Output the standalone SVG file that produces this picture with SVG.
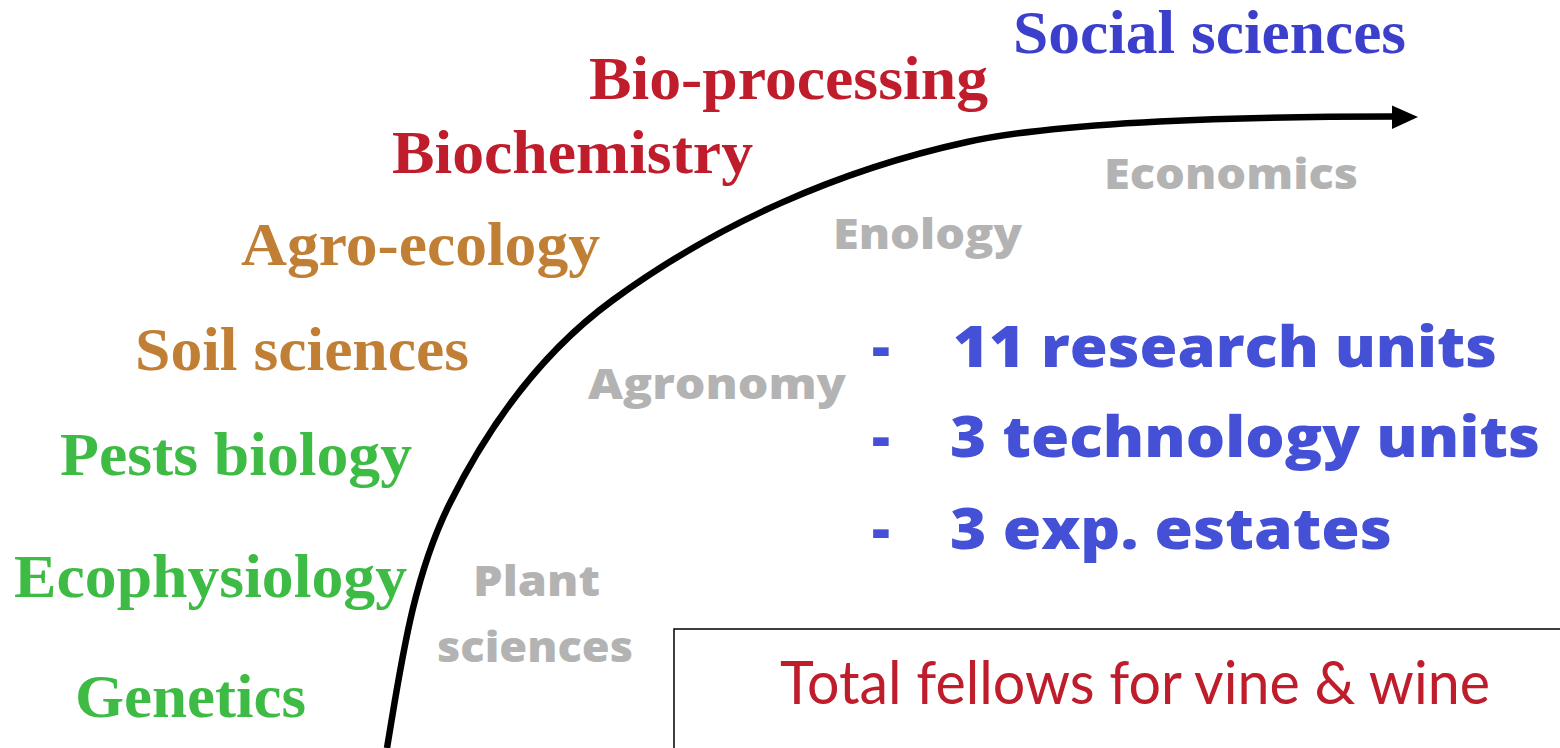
<svg xmlns="http://www.w3.org/2000/svg" width="1560" height="748" viewBox="0 0 1560 748">
<style>
.serif{font-family:"Liberation Serif","Times New Roman",serif;font-weight:bold;font-size:62px}
.red{fill:#bf1c2c}
.brown{fill:#c17f35}
.green{fill:#3dbb45}
.blue{fill:#3c3fcb}
.gray{font-family:"Open Sans",Lato,"DejaVu Sans",sans-serif;font-weight:800;font-size:42px;fill:#b3b3b3}
.list{font-family:"Open Sans",Lato,"DejaVu Sans",sans-serif;font-weight:800;font-size:56px;fill:#4450d6}
.total{font-family:Lato,"Open Sans","DejaVu Sans",sans-serif;font-weight:normal;font-size:60px;fill:#bf1c2c}
</style>
<rect width="1560" height="748" fill="#ffffff"/>
<g id="connectors">
<path d="M387,748 C401,665 412.4,578.2 450,503 C488.9,425.2 542.7,351.3 613,300 C718,223.3 840,169.7 967,142 C1045,125 1194,116.5 1394,116.5" fill="none" stroke="#000" stroke-width="6.5"/>
<polygon points="1392,105.5 1418,117 1392,129" fill="#000"/>
</g>
<g id="social"><text class="serif blue" x="1013" y="53" textLength="393" lengthAdjust="spacingAndGlyphs">Social sciences</text></g>
<g id="bioprocessing"><text class="serif red" x="589" y="99" textLength="399" lengthAdjust="spacingAndGlyphs">Bio-processing</text></g>
<g id="biochemistry"><text class="serif red" x="392" y="173" textLength="361" lengthAdjust="spacingAndGlyphs">Biochemistry</text></g>
<g id="agroecology"><text class="serif brown" x="241" y="265" textLength="359" lengthAdjust="spacingAndGlyphs">Agro-ecology</text></g>
<g id="soil"><text class="serif brown" x="135" y="370" textLength="334" lengthAdjust="spacingAndGlyphs">Soil sciences</text></g>
<g id="pests"><text class="serif green" x="60" y="475" textLength="352" lengthAdjust="spacingAndGlyphs">Pests biology</text></g>
<g id="ecophysiology"><text class="serif green" x="14" y="597" textLength="393" lengthAdjust="spacingAndGlyphs">Ecophysiology</text></g>
<g id="genetics"><text class="serif green" x="75" y="717" textLength="231" lengthAdjust="spacingAndGlyphs">Genetics</text></g>
<g id="economics"><text class="gray" x="1104" y="189" textLength="254" lengthAdjust="spacingAndGlyphs">Economics</text></g>
<g id="enology"><text class="gray" x="833" y="249" textLength="189" lengthAdjust="spacingAndGlyphs">Enology</text></g>
<g id="agronomy"><text class="gray" x="588" y="399" textLength="258" lengthAdjust="spacingAndGlyphs">Agronomy</text></g>
<g id="plant"><text class="gray" x="473" y="596" textLength="127" lengthAdjust="spacingAndGlyphs">Plant</text><text class="gray" x="437" y="662" textLength="196" lengthAdjust="spacingAndGlyphs">sciences</text></g>
<g id="units">
<text class="list" x="872" y="367">-</text>
<text class="list" x="953" y="367" textLength="544" lengthAdjust="spacingAndGlyphs">11 research units</text>
<text class="list" x="872" y="457">-</text>
<text class="list" x="950" y="457" textLength="590" lengthAdjust="spacingAndGlyphs">3 technology units</text>
<text class="list" x="872" y="549">-</text>
<text class="list" x="950" y="549" textLength="442" lengthAdjust="spacingAndGlyphs">3 exp. estates</text>
</g>
<g id="total">
<rect x="674" y="629" width="900" height="140" fill="none" stroke="#000" stroke-width="1.5"/>
<text class="total" x="780" y="704" textLength="710" lengthAdjust="spacingAndGlyphs">Total fellows for vine &amp; wine</text>
</g>
</svg>
